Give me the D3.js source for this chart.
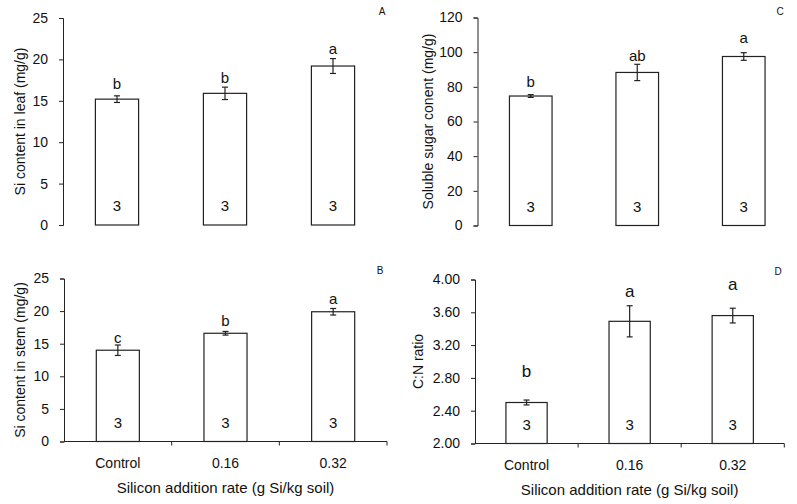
<!DOCTYPE html>
<html><head><meta charset="utf-8">
<script src="https://cdn.jsdelivr.net/npm/d3@7"></script>
<style>body{margin:0;background:#fff}text{font-family:"Liberation Sans",Arial,sans-serif;fill:#111}</style>
</head><body><svg id="c" width="797" height="504"></svg>
<script>
const categories = ["Control", "0.16", "0.32"];
const leafSi = [15.2, 15.9, 19.2];
const leafSiErr = [0.4, 0.75, 0.9];
const leafSiLetters = ["b", "b", "a"];
const stemSi = [14.0, 16.6, 19.9];
const stemSiErr = [0.8, 0.28, 0.5];
const stemSiLetters = ["c", "b", "a"];
const sugar = [74.7, 88.3, 97.5];
const sugarErr = [0.8, 4.7, 2.2];
const sugarLetters = ["b", "ab", "a"];
const cnRatio = [2.50, 3.49, 3.56];
const cnRatioErr = [0.03, 0.19, 0.09];
const cnRatioLetters = ["b", "a", "a"];
const nLabels = ["3", "3", "3"];
const xTitle = "Silicon addition rate (g Si/kg soil)";

const svg = d3.select("#c");

function panel(o) {
  const g = svg.append("g");
  const x = d3.scaleBand().domain(categories).range([o.x0, o.x1]).paddingInner(0.6).paddingOuter(0.3);
  const y = d3.scaleLinear().domain(o.domain).range([o.yb, o.yt]);
  const ya = g.append("g").attr("transform", `translate(${o.x0},0)`)
    .call(d3.axisLeft(y).tickValues(o.ticks).tickFormat(o.fmt).tickSizeOuter(0).tickSize(4).tickPadding(11));
  ya.selectAll("text").style("font-size", "14px").attr("fill", "#111");
  ya.selectAll("line,path").attr("stroke", "#222");
  if (o.xaxis) {
    const step = (o.x1 - o.x0) / categories.length;
    g.append("line").attr("x1", o.x0).attr("x2", o.x1).attr("y1", o.yb).attr("y2", o.yb).attr("stroke", "#222");
    categories.forEach((c, i) => {
      const xx = o.x0 + step * (i + 1);
      g.append("line").attr("x1", xx).attr("x2", xx).attr("y1", o.yb).attr("y2", o.yb + 4).attr("stroke", "#222");
      g.append("text").attr("x", x(c) + x.bandwidth() / 2).attr("y", o.yb + 26.5)
        .attr("text-anchor", "middle").style("font-size", "14px").text(c);
    });
    g.append("text").attr("x", (o.x0 + o.x1) / 2).attr("y", o.yb + 51.5)
      .attr("text-anchor", "middle").style("font-size", "15px").text(xTitle);
  }
  g.selectAll("rect.bar").data(o.vals).join("rect")
    .attr("x", (d, i) => x(categories[i])).attr("width", x.bandwidth())
    .attr("y", d => y(d)).attr("height", d => y(o.domain[0]) - y(d))
    .attr("fill", "#fff").attr("stroke", "#222").attr("stroke-width", 1.2);
  o.vals.forEach((v, i) => {
    const cx = x(categories[i]) + x.bandwidth() / 2;
    const e = o.err[i];
    g.append("line").attr("x1", cx).attr("x2", cx).attr("y1", y(v - e)).attr("y2", y(v + e)).attr("stroke", "#222").attr("stroke-width", 1.2);
    [v - e, v + e].forEach(w => g.append("line").attr("x1", cx - 3).attr("x2", cx + 3).attr("y1", y(w)).attr("y2", y(w)).attr("stroke", "#222").attr("stroke-width", 1.2));
    g.append("text").attr("x", cx).attr("y", y(v + e) - o.lgap[i]).attr("text-anchor", "middle")
      .style("font-size", o.lsize).text(o.letters[i]);
    g.append("text").attr("x", cx).attr("y", o.yb - 14).attr("text-anchor", "middle")
      .style("font-size", "15px").text(nLabels[i]);
  });
  g.append("text").attr("transform", `translate(${o.tx},${(o.yt + o.yb) / 2}) rotate(-90)`)
    .attr("text-anchor", "middle").attr("dy", "0.35em").style("font-size", "14px").text(o.title);
  g.append("text").attr("x", o.lx).attr("y", o.ly).attr("text-anchor", "middle").style("font-size", "10px").text(o.letter);
}

panel({x0: 63, x1: 387, yt: 18, yb: 225, domain: [0, 25], ticks: [0,5,10,15,20,25], fmt: d3.format("d"),
  vals: leafSi, err: leafSiErr, letters: leafSiLetters, lgap: [7, 4.5, 4.5], lsize: "15px", title: "Si content in leaf (mg/g)", tx: 20, letter: "A", lx: 382, ly: 15, xaxis: false});
panel({x0: 477.5, x1: 797, yt: 17.5, yb: 225.5, domain: [0, 120], ticks: [0,20,40,60,80,100,120], fmt: d3.format("d"),
  vals: sugar, err: sugarErr, letters: sugarLetters, lgap: [8, 3, 10], lsize: "15px", title: "Soluble sugar conent (mg/g)", tx: 428, letter: "C", lx: 780, ly: 15, xaxis: false});
panel({x0: 64, x1: 387, yt: 278.5, yb: 441.5, domain: [0, 25], ticks: [0,5,10,15,20,25], fmt: d3.format("d"),
  vals: stemSi, err: stemSiErr, letters: stemSiLetters, lgap: [2.5, 5, 4], lsize: "15px", title: "Si content in stem (mg/g)", tx: 20, letter: "B", lx: 380, ly: 274, xaxis: true});
panel({x0: 475, x1: 784.3, yt: 279.5, yb: 443.5, domain: [2, 4], ticks: [2.0,2.4,2.8,3.2,3.6,4.0], fmt: d3.format(".2f"),
  vals: cnRatio, err: cnRatioErr, letters: cnRatioLetters, lgap: [23, 9, 18], lsize: "17px", title: "C:N ratio", tx: 418, letter: "D", lx: 778, ly: 275, xaxis: true});
</script></body></html>
